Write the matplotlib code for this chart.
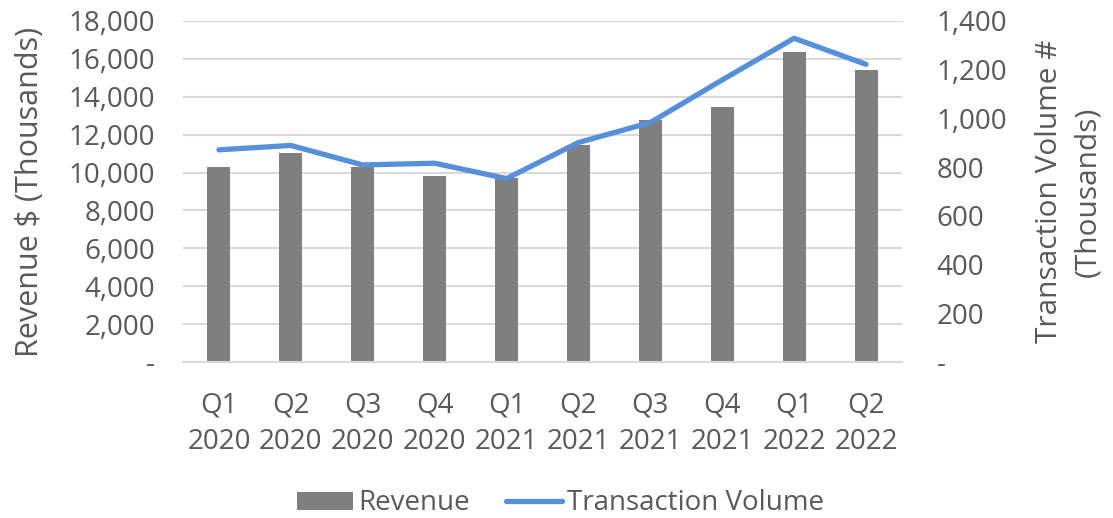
import matplotlib.pyplot as plt
import matplotlib.ticker as mticker
import numpy as np

plt.rcParams['font.family'] = ['Open Sans', 'DejaVu Sans']

quarters = ["Q1\n2020", "Q2\n2020", "Q3\n2020", "Q4\n2020", "Q1\n2021",
            "Q2\n2021", "Q3\n2021", "Q4\n2021", "Q1\n2022", "Q2\n2022"]
revenue = [10280, 11050, 10290, 9840, 9690, 11460, 12770, 13440, 16350, 15420]
volume = [871, 889, 809, 816, 753, 901, 983, 1158, 1329, 1222]

text_col = "#595959"
grid_col = "#d9d9d9"

fig = plt.figure(figsize=(11.13, 5.18), dpi=100)
ax = fig.add_axes([0.1644, 0.3012, 0.6460, 0.6583])
ax2 = ax.twinx()

x = np.arange(len(quarters))
ax.bar(x, revenue, width=0.32, color="#7f7f7f", label="Revenue", zorder=2)
ax2.plot(x, volume, color="#5590d8", lw=3.8, solid_capstyle="round",
         solid_joinstyle="round", label="Transaction Volume")

ax.set_xlim(-0.5, 9.5)
ax.set_ylim(0, 18000)
ax2.set_ylim(0, 1400)
ax.set_yticks(np.arange(0, 18001, 2000))
ax2.set_yticks(np.arange(0, 1401, 200))

def fmt(v, pos):
    return "-" if v == 0 else f"{v:,.0f}"

ax.yaxis.set_major_formatter(mticker.FuncFormatter(fmt))
ax2.yaxis.set_major_formatter(mticker.FuncFormatter(fmt))

ax.set_xticks(x)
ax.set_xticklabels(quarters, linespacing=1.4)
ax.grid(axis="y", color=grid_col, lw=1.5, zorder=0)
ax.set_axisbelow(True)

for a in (ax, ax2):
    for s in a.spines.values():
        s.set_visible(False)
    a.tick_params(length=0, labelsize=20, colors=text_col)
ax.spines["bottom"].set_visible(True)
ax.spines["bottom"].set_color(grid_col)
ax.spines["bottom"].set_linewidth(1.5)
ax.tick_params(axis="x", pad=21)
ax.tick_params(axis="y", pad=20)
ax2.tick_params(axis="y", pad=25)

ax.set_ylabel("Revenue $ (Thousands)", fontsize=22, color=text_col, labelpad=17)
ax2.set_ylabel("Transaction Volume #\n(Thousands)", fontsize=21.5, color=text_col,
               labelpad=20, linespacing=1.4)

h1, l1 = ax.get_legend_handles_labels()
h2, l2 = ax2.get_legend_handles_labels()
fig.legend(h1 + h2, l1 + l2, loc="center", bbox_to_anchor=(0.504, 0.028),
           ncol=2, frameon=False, fontsize=20, labelcolor=text_col,
           handlelength=2.0, handleheight=0.6, handletextpad=0.2,
           columnspacing=1.3)

fig.savefig("out.png", dpi=100)
